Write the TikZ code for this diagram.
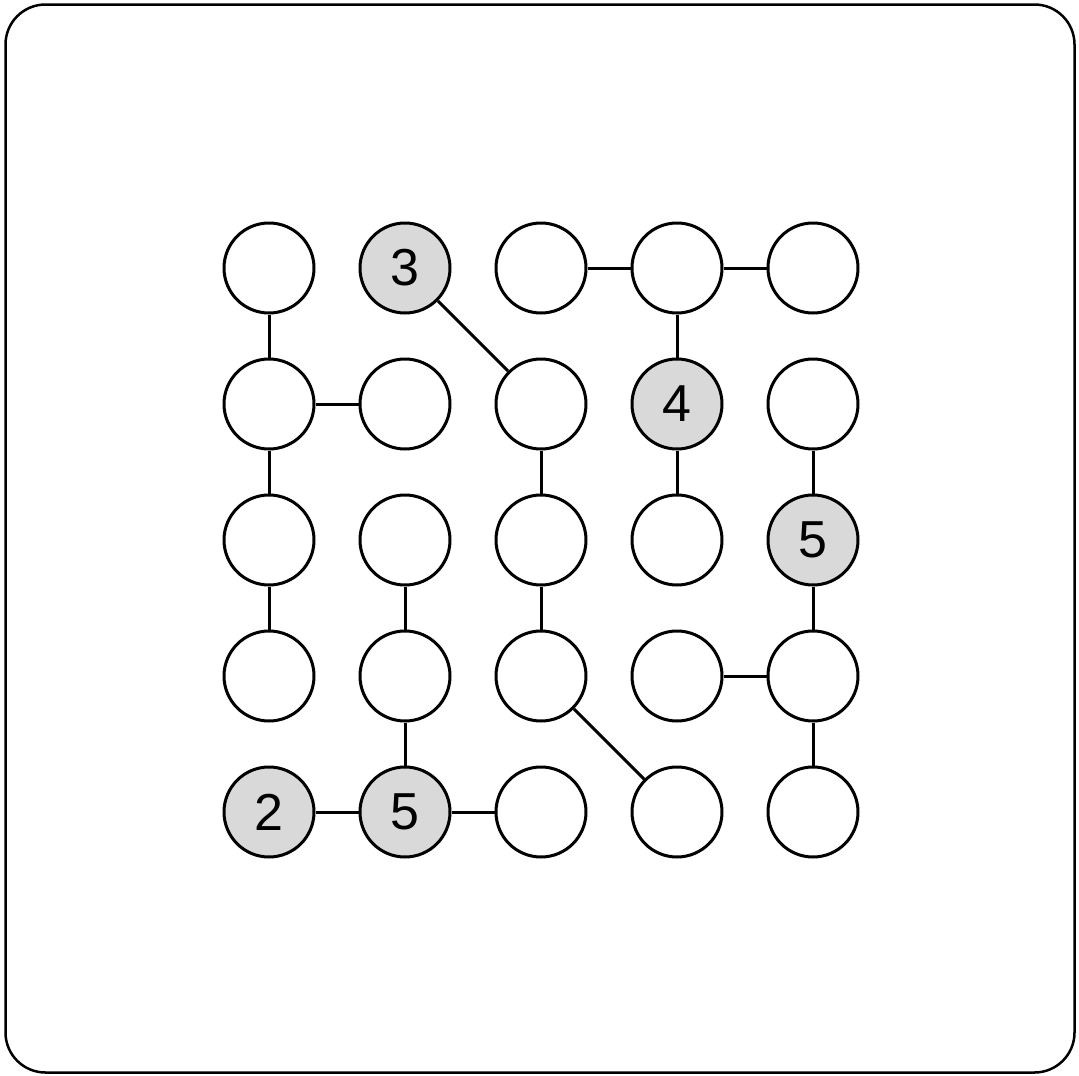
\documentclass[tikz,border=0pt]{standalone}
\usepackage{fontspec}
\setmainfont{Liberation Sans}
\definecolor{cellgray}{HTML}{D9D9D9}
\begin{document}
\begin{tikzpicture}[x=1pt,y=-1pt,
  cell/.style={circle,draw=black,line width=3pt,fill=white,minimum size=90pt,inner sep=0pt,font=\fontsize{52}{52}\selectfont},
  clue/.style={cell,fill=cellgray},
  link/.style={line width=3pt,draw=black}]
\useasboundingbox (0,0) rectangle (1079,1076);
\draw[line width=2.5pt,rounded corners=40pt] (5.5,4.5) rectangle (1074.5,1072.5);
\foreach \c in {0,...,4}{
  \foreach \r in {0,...,4}{
    \coordinate (p\c\r) at ({269+136*\c},{268+136*\r});
  }
}
\node[cell] (n00) at (p00) {};
\node[clue] (n10) at (p10) {3};
\node[cell] (n20) at (p20) {};
\node[cell] (n30) at (p30) {};
\node[cell] (n40) at (p40) {};
\node[cell] (n01) at (p01) {};
\node[cell] (n11) at (p11) {};
\node[cell] (n21) at (p21) {};
\node[clue] (n31) at (p31) {4};
\node[cell] (n41) at (p41) {};
\node[cell] (n02) at (p02) {};
\node[cell] (n12) at (p12) {};
\node[cell] (n22) at (p22) {};
\node[cell] (n32) at (p32) {};
\node[clue] (n42) at (p42) {5};
\node[cell] (n03) at (p03) {};
\node[cell] (n13) at (p13) {};
\node[cell] (n23) at (p23) {};
\node[cell] (n33) at (p33) {};
\node[cell] (n43) at (p43) {};
\node[clue] (n04) at (p04) {2};
\node[clue] (n14) at (p14) {5};
\node[cell] (n24) at (p24) {};
\node[cell] (n34) at (p34) {};
\node[cell] (n44) at (p44) {};
\draw[link] (n00) -- (n01);
\draw[link] (n01) -- (n11);
\draw[link] (n01) -- (n02);
\draw[link] (n02) -- (n03);
\draw[link] (n10) -- (n21);
\draw[link] (n20) -- (n30);
\draw[link] (n30) -- (n40);
\draw[link] (n30) -- (n31);
\draw[link] (n31) -- (n32);
\draw[link] (n21) -- (n22);
\draw[link] (n22) -- (n23);
\draw[link] (n23) -- (n34);
\draw[link] (n41) -- (n42);
\draw[link] (n42) -- (n43);
\draw[link] (n33) -- (n43);
\draw[link] (n43) -- (n44);
\draw[link] (n12) -- (n13);
\draw[link] (n13) -- (n14);
\draw[link] (n04) -- (n14);
\draw[link] (n14) -- (n24);
\end{tikzpicture}
\end{document}
